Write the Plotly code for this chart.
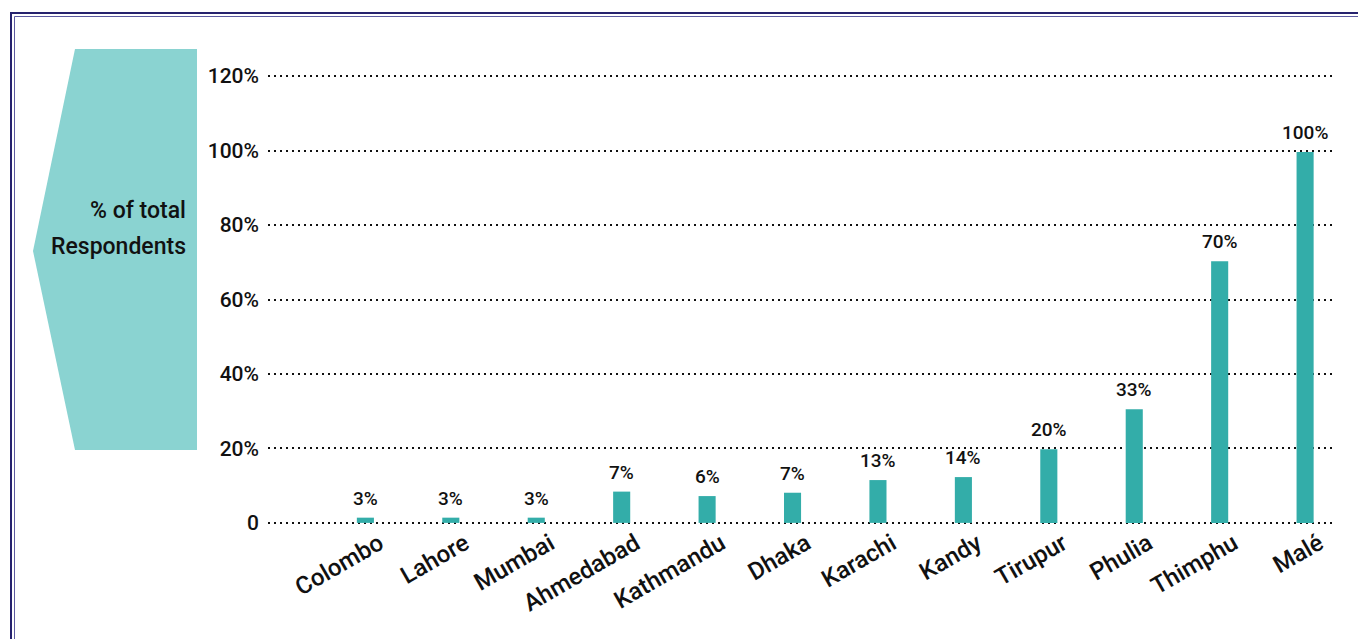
import plotly.graph_objects as go

cities = ["Colombo", "Lahore", "Mumbai", "Ahmedabad", "Kathmandu", "Dhaka",
          "Karachi", "Kandy", "Tirupur", "Phulia", "Thimphu", "Malé"]
bar_heights = [1.4, 1.4, 1.4, 8.4, 7.2, 8.1, 11.5, 12.3, 19.8, 30.5, 70.3, 99.6]
bar_labels = ["3%", "3%", "3%", "7%", "6%", "7%", "13%", "14%", "20%", "33%", "70%", "100%"]
y_ticks = [0, 20, 40, 60, 80, 100, 120]
y_tick_labels = ["0", "20%", "40%", "60%", "80%", "100%", "120%"]
axis_title = ["% of total", "Respondents"]

W, H = 1358, 639
L, R, T, B = 268, 1335, 75, 524
FONT = "Roboto"
BAR = "#33ada9"
PANEL = "#8ad3d1"
INK = "#111111"

def px_(x):
    return (x - L) / (R - L)

def py_(y):
    return (B - y) / (B - T)

fig = go.Figure()
fig.add_trace(go.Bar(x=cities, y=bar_heights, marker=dict(color=BAR, line=dict(width=0)),
                     width=0.2, hoverinfo="skip"))

annotations = []
for c, h, t in zip(cities, bar_heights, bar_labels):
    annotations.append(dict(x=c, y=h, text=t, showarrow=False, yanchor="bottom",
                            yshift=6, font=dict(family=FONT, size=19, color=INK, weight=500)))

annotations.append(dict(xref="paper", yref="paper", x=px_(188), y=py_(210), text=axis_title[0],
                        showarrow=False, xanchor="right", yanchor="middle",
                        font=dict(family=FONT, size=23, color=INK, weight=500)))
annotations.append(dict(xref="paper", yref="paper", x=px_(188), y=py_(247), text=axis_title[1],
                        showarrow=False, xanchor="right", yanchor="middle",
                        font=dict(family=FONT, size=23, color=INK, weight=500)))

pts = [(75, 49), (197, 49), (197, 450), (75, 450), (33, 251)]
path = "M " + " L ".join(f"{px_(x):.5f},{py_(y):.5f}" for x, y in pts) + " Z"

shapes = [
    dict(type="path", xref="paper", yref="paper", path=path, fillcolor=PANEL,
         line=dict(width=0), layer="below"),
    dict(type="rect", xref="paper", yref="paper", x0=px_(11), y0=py_(13), x1=px_(1400), y1=py_(700),
         line=dict(color="#26226e", width=2), fillcolor="rgba(0,0,0,0)"),
    dict(type="rect", xref="paper", yref="paper", x0=px_(14.5), y0=py_(16.5), x1=px_(1400), y1=py_(700),
         line=dict(color="#5d5aa0", width=1), fillcolor="rgba(0,0,0,0)"),
]

fig.update_layout(
    width=W, height=H,
    margin=dict(l=L, r=W - R, t=T, b=H - B, pad=0),
    paper_bgcolor="white", plot_bgcolor="white",
    showlegend=False,
    bargap=0.8,
    annotations=annotations,
    shapes=shapes,
    xaxis=dict(type="category", range=[-1.14, 11.35], showgrid=False, showline=False,
               zeroline=False, ticks="", tickangle=-30, ticklabelshift=14, ticklabelstandoff=0,
               tickfont=dict(family=FONT, size=24, color=INK, weight=500)),
    yaxis=dict(range=[-0.3, 120.3], tickvals=y_ticks, ticktext=y_tick_labels,
               showgrid=True, gridcolor=INK, gridwidth=2, griddash="2px,4px",
               zeroline=False, showline=False, ticks="", ticklabelstandoff=8,
               tickfont=dict(family=FONT, size=21, color=INK, weight=500)),
)

fig.write_html("out.html")
